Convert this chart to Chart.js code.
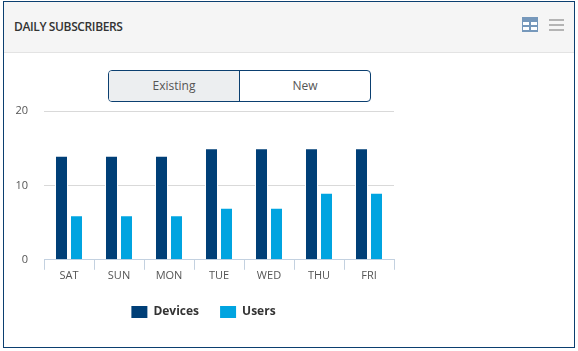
<!DOCTYPE html>
<html lang="en">
<head>
  <meta charset="UTF-8">
  <title>Daily Subscribers</title>
  <script src="https://cdn.jsdelivr.net/npm/chart.js"></script>
  <style>
    html, body { margin: 0; padding: 0; background: #fff; }
    body { width: 578px; height: 351px; position: relative; overflow: hidden; font-family: "Open Sans", sans-serif; }
    .panel { position: absolute; left: 3px; top: 1px; width: 570px; height: 345px; border: 1px solid #0b3f70; background: #fff; }
    .head { position: absolute; left: 0; top: 0; width: 570px; height: 50px; background: #f5f5f5; border-bottom: 1px solid #e3e3e3; }
    .head .title { position: absolute; left: 10px; top: 17px; font-size: 12px; line-height: 16px; color: #333; font-weight: 600; letter-spacing: -0.38px; }
    .icon { position: absolute; }
    .toggle { position: absolute; left: 108px; top: 70px; width: 263px; height: 32px; box-sizing: border-box; border: 1px solid #0b3f70; border-radius: 4px; display: flex; overflow: hidden; font-size: 12px; color: #555; }
    .toggle div { text-align: center; line-height: 30px; }
    .toggle .on { width: 130px; background: #eceef0; border-right: 1px solid #0b3f70; }
    .toggle .off { flex: 1; }
    .wrap { position: absolute; left: 0; top: 100px; width: 420px; height: 236px; }
  </style>
</head>
<body>
  <div class="panel">
    <div class="head">
      <div class="title">DAILY SUBSCRIBERS</div>
      <svg class="icon" style="left:518px; top:15px" width="16" height="15">
        <rect width="16" height="15" fill="#7698bb"></rect>
        <rect x="1" y="5" width="6" height="3" fill="#fff"></rect>
        <rect x="9" y="5" width="6" height="3" fill="#fff"></rect>
        <rect x="1" y="10" width="6" height="3" fill="#fff"></rect>
        <rect x="9" y="10" width="6" height="3" fill="#fff"></rect>
      </svg>
      <svg class="icon" style="left:545px; top:17px" width="15" height="13">
        <rect y="0" width="15" height="2" fill="#b4b4b4"></rect>
        <rect y="5" width="15" height="2" fill="#b4b4b4"></rect>
        <rect y="10" width="15" height="2" fill="#b4b4b4"></rect>
      </svg>
    </div>
  </div>
  <div class="toggle"><div class="on">Existing</div><div class="off">New</div></div>
  <div class="wrap"><canvas id="subscribers"></canvas></div>
  <script>
    const days = ['SAT', 'SUN', 'MON', 'TUE', 'WED', 'THU', 'FRI'];
    const devices = [14, 14, 14, 15, 15, 15, 15];
    const users = [6, 6, 6, 7, 7, 9, 9];

    const font = { family: '"Open Sans", sans-serif', size: 11 };

    new Chart(document.getElementById('subscribers'), {
      type: 'bar',
      data: {
        labels: days,
        datasets: [
          { label: 'Devices', data: devices, backgroundColor: '#003f77' },
          { label: 'Users', data: users, backgroundColor: '#00a4e0' }
        ]
      },
      options: {
        responsive: true,
        maintainAspectRatio: false,
        animation: false,
        categoryPercentage: 0.6,
        barPercentage: 0.867,
        // white edge on the bars, it breaks the grid lines next to them
        borderWidth: 1,
        borderColor: '#fff',
        borderSkipped: 'bottom',
        layout: { padding: { top: 11, right: 26, left: 13, bottom: 8 } },
        plugins: {
          tooltip: { enabled: false },
          legend: {
            position: 'bottom',
            labels: {
              boxWidth: 16,
              boxHeight: 12,
              padding: 21,
              color: '#333',
              font: { family: '"Open Sans", sans-serif', size: 12, weight: 'bold' },
              generateLabels: function (chart) {
                return Chart.defaults.plugins.legend.labels.generateLabels(chart).map(function (item) {
                  item.lineWidth = 0;
                  return item;
                });
              }
            }
          }
        },
        scales: {
          x: {
            afterFit: function (scale) { scale.height += 4; },
            grid: { drawOnChartArea: false, color: '#c3d1e0', tickLength: 10, offset: true },
            border: { color: '#c3d1e0' },
            ticks: { color: '#555', font: font, padding: -1, maxRotation: 0 }
          },
          y: {
            min: 0,
            max: 20,
            afterFit: function (scale) { scale.width = 31; },
            grid: {
              color: function (c) { return c.tick.value === 0 ? 'transparent' : '#d9d9d9'; },
              tickColor: 'transparent',
              tickLength: 16
            },
            border: { display: false },
            ticks: { stepSize: 10, color: '#555', font: font, padding: 0 }
          }
        }
      }
    });
  </script>
</body>
</html>
